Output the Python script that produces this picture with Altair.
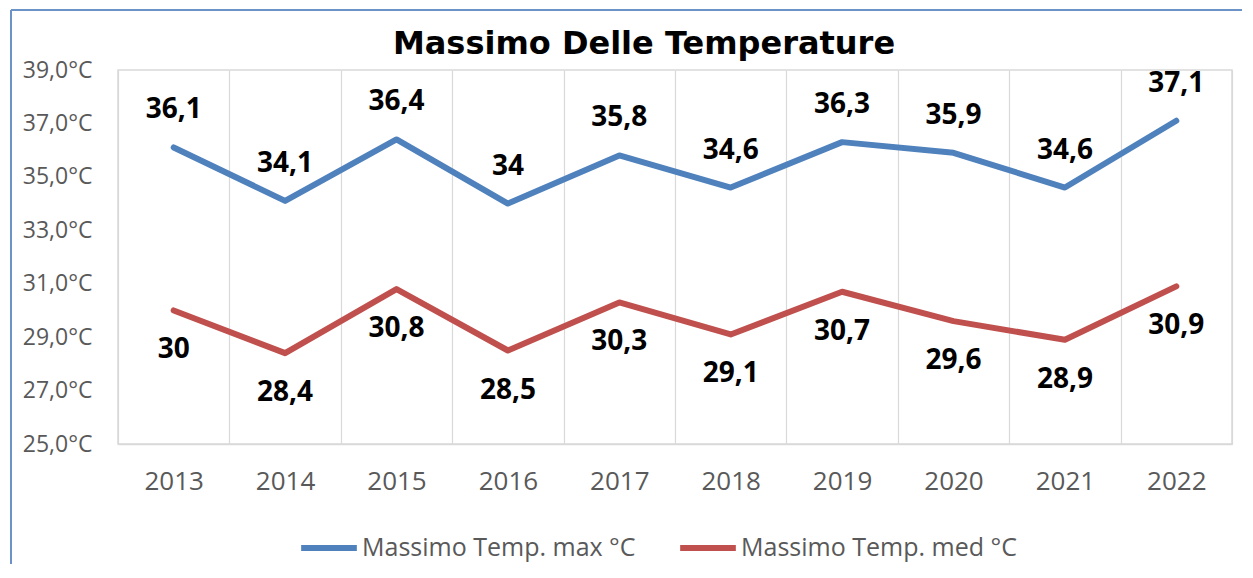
import altair as alt
import pandas as pd

years = ["2013", "2014", "2015", "2016", "2017", "2018", "2019", "2020", "2021", "2022"]
temp_max = [36.1, 34.1, 36.4, 34.0, 35.8, 34.6, 36.3, 35.9, 34.6, 37.1]
temp_med = [30.0, 28.4, 30.8, 28.5, 30.3, 29.1, 30.7, 29.6, 28.9, 30.9]
series_names = ["Massimo Temp. max °C", "Massimo Temp. med °C"]
series_colors = ["#4f81bd", "#c0504d"]
y_ticks = [25, 27, 29, 31, 33, 35, 37, 39]
title_text = "Massimo Delle Temperature"

df = pd.DataFrame({
    "Anno": years * 2,
    "Serie": [series_names[0]] * len(years) + [series_names[1]] * len(years),
    "Valore": temp_max + temp_med,
})

x_enc = alt.X(
    "Anno:N",
    sort=years,
    scale=alt.Scale(type="band", paddingInner=0, paddingOuter=0),
    axis=alt.Axis(
        title=None, labelAngle=0, tickBand="extent", grid=True, gridColor="#d9d9d9",
        gridWidth=1.2, ticks=False, domainColor="#d9d9d9", domainWidth=1.5,
        labelFontSize=26, labelColor="#595959", labelPadding=24, labelFont="Open Sans",
    ),
)
y_enc = alt.Y(
    "Valore:Q",
    scale=alt.Scale(domain=[25, 39], nice=False, zero=False),
    axis=alt.Axis(
        title=None, values=y_ticks, grid=False, ticks=False, domain=False,
        labelExpr="replace(format(datum.value, '.1f'), '.', ',') + '°C'",
        labelFontSize=23, labelColor="#595959", labelPadding=26, labelFont="Open Sans",
    ),
)
color_enc = alt.Color(
    "Serie:N",
    scale=alt.Scale(domain=series_names, range=series_colors),
    legend=alt.Legend(
        title=None, orient="none", legendX=180, legendY=447, direction="horizontal",
        symbolType="stroke", symbolSize=3100, symbolStrokeWidth=6,
        labelFontSize=25, labelColor="#595959", labelFont="Open Sans", labelLimit=0,
        columnPadding=32, labelOffset=2, symbolOffset=0,
    ),
)

base = alt.Chart(df).encode(x=x_enc)

lines = base.mark_line(strokeWidth=6, strokeCap="round", strokeJoin="round").encode(
    y=y_enc, color=color_enc
)

labels_max = base.transform_filter(
    alt.datum.Serie == series_names[0]
).transform_calculate(
    lab="replace(toString(datum.Valore), '.', ',')"
).mark_text(fontSize=28, fontWeight="bold", color="black", dy=-37, font="Open Sans").encode(
    y="Valore:Q", text="lab:N"
)

labels_med = base.transform_filter(
    alt.datum.Serie == series_names[1]
).transform_calculate(
    lab="replace(toString(datum.Valore), '.', ',')"
).mark_text(fontSize=28, fontWeight="bold", color="black", dy=40, font="Open Sans").encode(
    y="Valore:Q", text="lab:N"
)

frame_left = alt.Chart(df).mark_rule(color="#6b93c8", strokeWidth=2).encode(
    x=alt.value(-107), y=alt.value(-60), y2=alt.value(520)
)
frame_top = alt.Chart(df).mark_rule(color="#6b93c8", strokeWidth=2).encode(
    x=alt.value(-107), x2=alt.value(1140), y=alt.value(-60)
)

chart = alt.layer(frame_left, frame_top, lines, labels_max, labels_med).properties(
    width=1114,
    height=374,
    autosize=alt.AutoSizeParams(type="none"),
    padding={"left": 110, "top": 62, "right": 10, "bottom": 120},
    title=alt.TitleParams(
        title_text, fontSize=32, fontWeight="bold", font="DejaVu Sans", color="black",
        anchor="middle", frame="group", dx=-31, offset=-77, baseline="alphabetic",
    ),
).configure_view(stroke="#d9d9d9", strokeWidth=1.5)

chart.save("out.html", embed_options={"renderer": "svg", "actions": False})
